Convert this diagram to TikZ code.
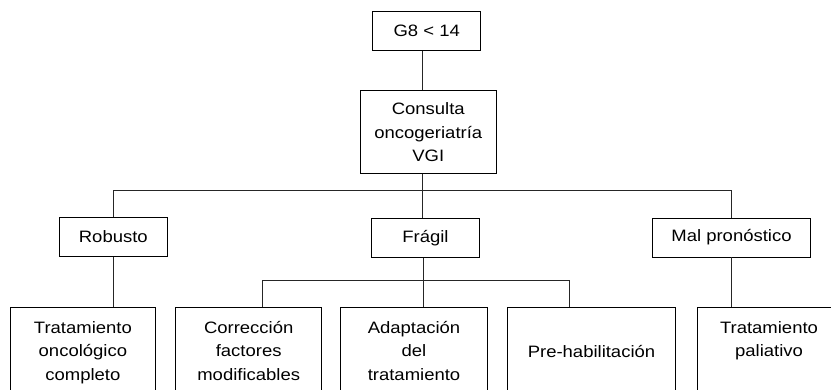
\documentclass[tikz,border=0pt]{standalone}
\usepackage{fontspec}
\setmainfont{Liberation Sans}[FakeStretch=1.12]
\newcommand{\toplines}[1]{\begin{tabular}[t]{@{}c@{}}#1\end{tabular}}
\tikzset{
  box/.style={draw,line width=.9pt,inner sep=0pt,align=center,
    font=\fontsize{16.5}{23.5}\selectfont},
  leaf/.style={box,anchor=north,text height=25.7pt,text depth=75pt},
  link/.style={line width=.8pt,black!85}
}
\begin{document}
\begin{tikzpicture}[x=1pt,y=-1pt]
\useasboundingbox (0,0) rectangle (831,390);
\clip (0,0) rectangle (831,390);
% upper levels
\node[box,minimum width=108pt,minimum height=39pt] (g8) at (426.7,31.2) {G8 < 14};
\node[box,minimum width=136.7pt,minimum height=83.3pt] (vgi) at (428.3,132.3) {Consulta\\oncogeriatría\\VGI};
\node[box,minimum width=108pt,minimum height=39.4pt] (rob) at (113.3,237) {Robusto};
\node[box,minimum width=107.6pt,minimum height=39pt] (fra) at (425.5,237.8) {Frágil};
\node[box,minimum width=158.4pt,minimum height=39pt] (mal) at (731.5,237.5) {Mal pronóstico};
% bottom row
\node[leaf,minimum width=145.7pt] (onco) at (82.9,307.3) {\toplines{Tratamiento\\oncológico\\completo}};
\node[leaf,minimum width=146pt] (corr) at (248.7,307) {\toplines{Corrección\\factores\\modificables}};
\node[leaf,minimum width=146.6pt] (adap) at (414,307) {\toplines{Adaptación\\del\\tratamiento}};
\node[leaf,minimum width=168.4pt,text height=49.7pt] (preh) at (591.5,307) {Pre-habilitación};
\node[leaf,minimum width=143.4pt] (pali) at (769,307) {\toplines{Tratamiento\\paliativo}};
% connectors
\coordinate (bar) at (422,190.7);
\coordinate (fbar) at (423.5,280);
\coordinate (cl) at (262.7,280);
\coordinate (cr) at (569,280);
\draw[link] (g8.south -| bar) -- (vgi.north -| bar);
\draw[link] (vgi.south -| bar) -- (fra.north -| bar);
\draw[link] (rob.north) |- (bar) -| (mal.north);
\draw[link] (rob.south) -- (rob.south |- onco.north);
\draw[link] (mal.south) -- (mal.south |- pali.north);
\draw[link] (fra.south -| fbar) -- (adap.north -| fbar);
\draw[link] (corr.north -| cl) -- (cl) -- (cr) -- (preh.north -| cr);
\end{tikzpicture}
\end{document}
